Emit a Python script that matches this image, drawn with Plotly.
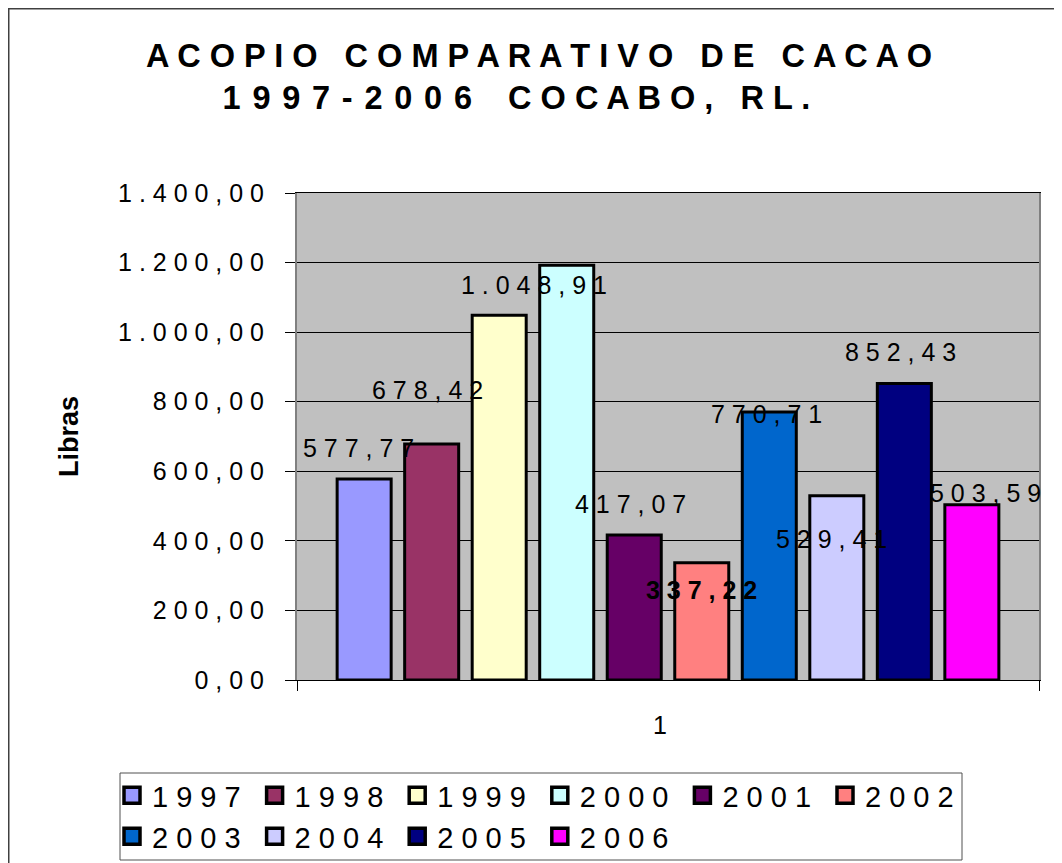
import plotly.graph_objects as go

# ---------------- data ----------------
years = ["1997", "1998", "1999", "2000", "2001", "2002", "2003", "2004", "2005", "2006"]
values = [577.77, 678.42, 1048.91, 1192.00, 417.07, 337.22, 770.71, 529.41, 852.43, 503.59]
category = ["1"]
y_tick_values = [0, 200, 400, 600, 800, 1000, 1200, 1400]

# ---------------- style ----------------
colors = ["#9999FF", "#993366", "#FFFFCC", "#CCFFFF", "#660066",
          "#FF8080", "#0066CC", "#CCCCFF", "#000080", "#FF00FF"]
label_show = [True, True, True, False, True, True, True, True, True, True]
label_dx = [-6, -4, 35, 0, -4, 0, -3, -5, -4, 14]      # px
label_dy = [31, 54, 30, 0, 31, -27, -2, -43, 31, 12]   # px (up)
label_bold = [False, False, False, False, False, True, False, False, False, False]

FONT = "Liberation Sans, Arial, sans-serif"
W, H = 1062, 863
OFF = 8  # default page body margin
PLOT_LEFT, PLOT_RIGHT, PLOT_TOP, PLOT_BOTTOM = 297, 1039, 193, 680  # page pixels
L = PLOT_LEFT - OFF
T = PLOT_TOP - OFF
R = W - (PLOT_RIGHT - OFF)
B = H - (PLOT_BOTTOM - OFF)
PW, PH = PLOT_RIGHT - PLOT_LEFT, PLOT_BOTTOM - PLOT_TOP
BARGAP, BARGROUPGAP = 0.09, 0.2
NB = "\u00a0"
HAIR = "\u200a"


def fmt(v):
    s = f"{v:,.2f}"
    return s.replace(",", "#").replace(".", ",").replace("#", ".")


def spaced(s, sep=" "):
    return sep.join(list(s))


def px_x(px):
    return (px - PLOT_LEFT) / PW


def px_y(py):
    return (PLOT_BOTTOM - py) / PH


fig = go.Figure()
for i, (yr, v, c) in enumerate(zip(years, values, colors)):
    fig.add_trace(go.Bar(
        x=category, y=[v], name=spaced(yr),
        marker=dict(color=c, line=dict(color="#000000", width=3)),
        showlegend=False, legendgroup=yr,
        hoverinfo="skip",
    ))
# legend keys (square swatches with a heavy black outline, like the original)
for i, (yr, c) in enumerate(zip(years, colors)):
    fig.add_trace(go.Scatter(
        x=[None], y=[None], mode="markers", name=spaced(yr),
        marker=dict(symbol="square", size=16, color=c,
                    line=dict(color="#000000", width=3.5)),
        legend="legend" if i < 6 else "legend2", legendgroup=yr,
        hoverinfo="skip",
    ))

n = len(years)
slot = (1 - BARGAP) / n
annotations = []
for i, v in enumerate(values):
    if not label_show[i]:
        continue
    txt = spaced(fmt(v))
    if label_bold[i]:
        txt = "<b>" + txt + "</b>"
    annotations.append(dict(
        x=-(1 - BARGAP) / 2 + slot * (i + 0.5), y=v, xref="x", yref="y",
        text=txt, showarrow=False, xanchor="center", yanchor="middle",
        xshift=label_dx[i], yshift=label_dy[i],
        font=dict(family=FONT, size=25, color="#000000"),
    ))

shapes = [
    # outer chart border
    dict(type="rect", xref="paper", yref="paper", layer="above",
         x0=px_x(8.75), x1=px_x(1080), y0=px_y(880), y1=px_y(8.75),
         line=dict(color="#404040", width=1.5), fillcolor="rgba(0,0,0,0)"),
    # legend box
    dict(type="rect", xref="paper", yref="paper", layer="above",
         x0=px_x(120), x1=px_x(962), y0=px_y(860), y1=px_y(773),
         line=dict(color="#505050", width=1), fillcolor="rgba(0,0,0,0)"),
]

legend_common = dict(
    orientation="h", xanchor="left", yanchor="top",
    bgcolor="rgba(0,0,0,0)", borderwidth=0,
    font=dict(family=FONT, size=29, color="#000000"),
    entrywidth=97.6, entrywidthmode="pixels", itemwidth=30,
    itemclick=False, itemdoubleclick=False,
)

title_line1 = (" " + NB + " ").join(spaced(w) for w in ["ACOPIO", "COMPARATIVO", "DE", "CACAO"])
title_line2 = (spaced("1997-2006", " " + HAIR) + " " + NB + NB + " "
               + spaced("COCABO, RL.") + NB * 5)

fig.update_layout(
    width=W, height=H,
    margin=dict(l=L, r=R, t=T, b=B, autoexpand=False),
    paper_bgcolor="#FFFFFF", plot_bgcolor="#C0C0C0",
    barmode="group", bargap=BARGAP, bargroupgap=BARGROUPGAP,
    font=dict(family=FONT, color="#000000"),
    title=dict(
        text="<b>" + title_line1 + "<br>" + title_line2 + "</b>",
        x=(539 - OFF) / W, xref="container", xanchor="center",
        y=1 - (67 - OFF) / H, yref="container", yanchor="top",
        font=dict(family=FONT, size=32.5, color="#000000"),
    ),
    xaxis=dict(
        type="category", range=[-0.5, 0.5],
        showline=True, linecolor="#000000", linewidth=1, mirror=True,
        ticks="outside", ticklen=10, tickcolor="#000000", tickwidth=1,
        tickson="boundaries", ticklabelstandoff=23, ticklabelshift=-8,
        tickfont=dict(family=FONT, size=25, color="#000000"),
        showgrid=False, zeroline=False,
    ),
    yaxis=dict(
        range=[0, 1400], tickvals=y_tick_values,
        ticktext=[spaced(fmt(v)) for v in y_tick_values],
        showline=True, linecolor="#808080", linewidth=2, mirror=True,
        ticks="outside", ticklen=10, tickcolor="#000000", tickwidth=1,
        ticklabelstandoff=16,
        tickfont=dict(family=FONT, size=25, color="#000000"),
        showgrid=True, gridcolor="#000000", gridwidth=1, zeroline=False,
        title=dict(text="<b>Libras</b>", standoff=32,
                   font=dict(family=FONT, size=27, color="#000000")),
    ),
    legend=dict(legend_common, x=px_x(112), y=px_y(770)),
    legend2=dict(legend_common, x=px_x(112), y=px_y(811)),
    annotations=annotations,
    shapes=shapes,
    showlegend=True,
)

fig.write_html("out.html")
